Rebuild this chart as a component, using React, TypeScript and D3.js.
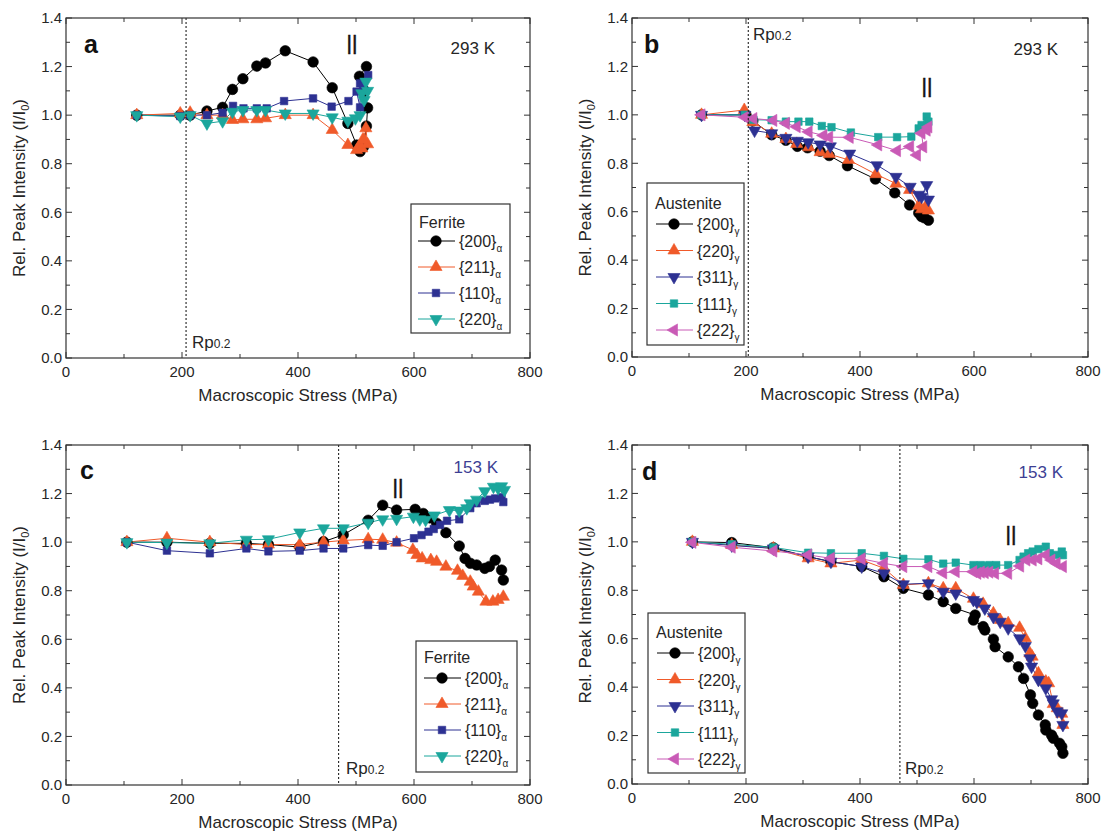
import React from "react";
import * as d3 from "d3";

// ---------- axes ----------
const X_TICKS = [0, 200, 400, 600, 800];
const X_MINOR = [100, 300, 500, 700];
const Y_TICKS = [0, 0.2, 0.4, 0.6, 0.8, 1.0, 1.2, 1.4];
const Y_MINOR = [0.1, 0.3, 0.5, 0.7, 0.9, 1.1, 1.3];

const FERRITE_LABELS = ["{200}", "{211}", "{110}", "{220}"];
const AUSTENITE_LABELS = ["{200}", "{220}", "{311}", "{111}", "{222}"];

// ---------- panel a : ferrite 293 K ----------
const A200_X = [122, 197, 214, 243, 270, 287, 305, 329, 344, 378, 426, 459, 486, 501, 507, 513, 518, 520, 515, 506, 518];
const A200_Y = [1.0, 1.0, 1.0, 1.017, 1.032, 1.106, 1.15, 1.202, 1.215, 1.265, 1.219, 1.113, 0.966, 0.877, 0.85, 0.87, 0.955, 1.03, 1.1, 1.16, 1.2];
const A211_X = [122, 197, 214, 243, 270, 287, 305, 329, 344, 378, 426, 459, 486, 501, 505, 510, 514, 517, 520, 512];
const A211_Y = [1.0, 1.007, 1.01, 1.0, 1.0, 0.98, 0.983, 0.983, 0.987, 1.0, 1.0, 0.939, 0.877, 0.856, 0.87, 0.863, 0.898, 0.946, 0.88, 0.9];
const A110_X = [122, 197, 214, 243, 270, 288, 306, 329, 346, 376, 426, 458, 487, 501, 507, 507, 512, 521];
const A110_Y = [1.0, 0.996, 1.0, 1.0, 1.01, 1.038, 1.028, 1.028, 1.028, 1.058, 1.069, 1.035, 1.058, 1.097, 1.032, 1.131, 1.12, 1.165];
const A220_X = [122, 197, 214, 243, 270, 287, 305, 329, 344, 378, 426, 459, 486, 499, 507, 510, 514, 517, 520];
const A220_Y = [1.0, 0.994, 1.0, 0.966, 0.975, 1.014, 1.021, 1.021, 1.021, 1.007, 1.007, 0.991, 0.977, 0.987, 1.0, 1.09, 1.062, 1.138, 1.1];

// ---------- panel b : austenite 293 K ----------
const B200_X = [122, 200, 212, 245, 270, 290, 308, 330, 346, 378, 427, 461, 487, 503, 508, 513, 520];
const B200_Y = [1.0, 1.0, 0.975, 0.918, 0.895, 0.87, 0.864, 0.85, 0.832, 0.79, 0.735, 0.678, 0.628, 0.595, 0.58, 0.575, 0.565];
const B220_X = [122, 197, 212, 245, 270, 289, 310, 330, 346, 380, 428, 463, 487, 503, 508, 515, 520];
const B220_Y = [1.0, 1.02, 0.97, 0.922, 0.9, 0.88, 0.866, 0.846, 0.838, 0.814, 0.755, 0.716, 0.69, 0.625, 0.61, 0.62, 0.605];
const B311_X = [122, 198, 215, 245, 270, 290, 309, 330, 348, 382, 430, 463, 488, 503, 508, 517, 520];
const B311_Y = [1.0, 1.0, 0.935, 0.924, 0.905, 0.893, 0.887, 0.878, 0.87, 0.84, 0.792, 0.744, 0.703, 0.67, 0.662, 0.71, 0.65];
const B111_X = [122, 198, 213, 245, 270, 292, 311, 333, 350, 384, 432, 465, 490, 503, 508, 517, 520];
const B111_Y = [1.0, 1.0, 0.98, 0.978, 0.972, 0.972, 0.972, 0.954, 0.949, 0.927, 0.908, 0.908, 0.91, 0.944, 0.958, 0.993, 0.972];
const B222_X = [122, 198, 213, 248, 270, 289, 310, 336, 346, 382, 432, 465, 488, 500, 511, 508, 517, 520];
const B222_Y = [1.0, 0.99, 0.985, 0.977, 0.965, 0.951, 0.93, 0.915, 0.908, 0.907, 0.876, 0.852, 0.869, 0.834, 0.868, 0.924, 0.937, 0.95];

// ---------- panel c : ferrite 153 K ----------
const C200_X = [105, 174, 248, 311, 349, 403, 444, 478, 521, 546, 570, 602, 616, 627, 639, 655, 678, 688, 697, 708, 722, 730, 740, 751, 754];
const C200_Y = [1.0, 1.0, 0.995, 0.995, 0.99, 0.98, 1.002, 1.03, 1.09, 1.152, 1.132, 1.135, 1.118, 1.1, 1.078, 1.039, 0.984, 0.933, 0.913, 0.906, 0.892, 0.9, 0.926, 0.885, 0.844];
const C211_X = [105, 174, 248, 311, 349, 403, 444, 478, 521, 546, 570, 598, 605, 614, 629, 639, 655, 675, 684, 697, 702, 711, 724, 736, 745, 754];
const C211_Y = [1.0, 1.016, 1.0, 0.99, 0.99, 0.99, 1.0, 1.007, 1.012, 1.01, 0.998, 0.968, 0.947, 0.933, 0.926, 0.919, 0.899, 0.882, 0.861, 0.837, 0.817, 0.796, 0.755, 0.755, 0.762, 0.775];
const C110_X = [105, 174, 248, 311, 349, 403, 444, 478, 521, 546, 570, 600, 613, 625, 634, 645, 657, 678, 697, 708, 722, 731, 740, 751, 754];
const C110_Y = [1.0, 0.965, 0.954, 0.974, 0.962, 0.965, 0.974, 0.974, 0.988, 0.985, 1.0, 1.016, 1.029, 1.043, 1.054, 1.071, 1.088, 1.094, 1.14, 1.16, 1.17, 1.175, 1.18, 1.185, 1.165];
const C220_X = [105, 174, 248, 311, 349, 403, 444, 478, 521, 546, 570, 599, 610, 620, 635, 661, 678, 691, 697, 708, 722, 737, 745, 751, 756];
const C220_Y = [1.0, 0.998, 0.995, 1.01, 1.012, 1.04, 1.057, 1.057, 1.08, 1.094, 1.096, 1.105, 1.094, 1.092, 1.11, 1.132, 1.13, 1.14, 1.16, 1.175, 1.21, 1.228, 1.222, 1.23, 1.215];

// ---------- panel d : austenite 153 K ----------
const D200_X = [106, 175, 248, 309, 349, 403, 442, 476, 520, 546, 568, 602, 599, 616, 619, 634, 637, 660, 678, 687, 699, 703, 713, 725, 726, 736, 739, 750, 754, 756];
const D200_Y = [1.0, 0.997, 0.976, 0.939, 0.918, 0.898, 0.856, 0.808, 0.781, 0.753, 0.725, 0.698, 0.677, 0.65, 0.636, 0.598, 0.567, 0.525, 0.484, 0.436, 0.368, 0.333, 0.285, 0.244, 0.223, 0.202, 0.189, 0.168, 0.154, 0.127];
const D220_X = [106, 175, 248, 309, 349, 403, 442, 476, 520, 546, 568, 599, 616, 634, 646, 660, 680, 690, 698, 702, 713, 726, 731, 739, 746, 754, 756];
const D220_Y = [1.0, 0.987, 0.973, 0.932, 0.911, 0.925, 0.891, 0.822, 0.829, 0.808, 0.808, 0.765, 0.744, 0.705, 0.677, 0.664, 0.645, 0.602, 0.54, 0.526, 0.457, 0.423, 0.416, 0.33, 0.313, 0.29, 0.244];
const D311_X = [106, 175, 248, 309, 349, 403, 442, 476, 520, 546, 568, 599, 605, 619, 634, 646, 660, 680, 690, 698, 701, 713, 726, 736, 739, 746, 754, 756];
const D311_Y = [1.0, 0.985, 0.973, 0.939, 0.918, 0.898, 0.87, 0.825, 0.829, 0.794, 0.787, 0.76, 0.752, 0.725, 0.69, 0.67, 0.643, 0.602, 0.57, 0.519, 0.485, 0.43, 0.395, 0.35, 0.333, 0.3, 0.292, 0.244];
const D111_X = [106, 175, 248, 309, 349, 403, 442, 476, 520, 546, 568, 599, 606, 612, 619, 627, 639, 660, 680, 687, 695, 703, 713, 726, 733, 745, 754, 756];
const D111_Y = [1.0, 0.99, 0.977, 0.955, 0.953, 0.953, 0.942, 0.93, 0.928, 0.91, 0.914, 0.904, 0.898, 0.904, 0.9, 0.904, 0.904, 0.904, 0.925, 0.939, 0.953, 0.96, 0.97, 0.98, 0.953, 0.946, 0.96, 0.945];
const D222_X = [106, 175, 248, 309, 349, 403, 442, 476, 520, 546, 568, 599, 606, 612, 619, 627, 637, 660, 681, 692, 703, 713, 726, 736, 745, 756];
const D222_Y = [0.998, 0.978, 0.962, 0.946, 0.932, 0.93, 0.911, 0.898, 0.898, 0.872, 0.877, 0.877, 0.87, 0.875, 0.873, 0.875, 0.87, 0.87, 0.9, 0.925, 0.925, 0.93, 0.946, 0.925, 0.911, 0.898];

// ---------- styles ----------
const BLACK = "#000000";
const ORANGE = "#F05A2A";
const NAVY = "#2D3192";
const TEAL = "#1BA69C";
const PINK = "#C95AB6";
const TXT = "#262626";
const FRAME = "#333333";
const FONT = "'Liberation Sans', Arial, Helvetica, sans-serif";

type Shape = "circle" | "up" | "square" | "down" | "left";
interface Series { x: number[]; y: number[]; color: string; shape: Shape; }

const symbolPath = (shape: Shape): string => {
  if (shape === "circle") return d3.symbol(d3.symbolCircle, 88)() as string;
  if (shape === "square") return d3.symbol(d3.symbolSquare, 56)() as string;
  return d3.symbol(d3.symbolTriangle, 64)() as string;
};
const symbolRot = (shape: Shape): number =>
  shape === "down" ? 180 : shape === "left" ? -90 : 0;

const Marker = ({ cx, cy, shape, color }: { cx: number; cy: number; shape: Shape; color: string }) => (
  <path
    d={symbolPath(shape)}
    transform={`translate(${cx},${cy}) rotate(${symbolRot(shape)})`}
    fill={color}
    stroke={color}
    strokeWidth={0.6}
  />
);

interface LegendCfg {
  x0: number; y0: number; w: number; h: number;
  title: string; labels: string[]; sub: string;
  titleDy: number; rowStart: number; rowStep: number; lineX0: number;
}

interface PanelProps {
  left: number; top: number; right: number; bottom: number;
  series: Series[];
  legend: LegendCfg;
  letter: string; letterPos: [number, number];
  temp: string; tempColor: string; tempPos: [number, number];
  rp: number; rpLabelPos: [number, number];
  breakPos: [number, number];
}

const Panel = (p: PanelProps) => {
  const x = d3.scaleLinear().domain([0, 800]).range([p.left, p.right]);
  const y = d3.scaleLinear().domain([0, 1.4]).range([p.bottom, p.top]);
  const line = d3.line<[number, number]>().x((d) => x(d[0])).y((d) => y(d[1]));
  const lg = p.legend;
  const tickMaj = 6;
  const tickMin = 4;
  return (
    <g fontFamily={FONT} fill={TXT}>
      {p.series.map((s, i) => {
        const pts: [number, number][] = s.x.map((v, k) => [v, s.y[k]]);
        return <path key={"s" + i} d={line(pts) as string} fill="none" stroke={s.color} strokeWidth={1} />;
      })}
      {p.series.map((s, i) => (
        <g key={"m" + i}>
          {s.x.map((v, k) => (
            <Marker key={k} cx={x(v)} cy={y(s.y[k])} shape={s.shape} color={s.color} />
          ))}
        </g>
      ))}
      {/* Rp0.2 line */}
      <line x1={x(p.rp)} x2={x(p.rp)} y1={p.top} y2={p.bottom} stroke="#222" strokeWidth={1.1} strokeDasharray="2,2" />
      <text x={p.rpLabelPos[0]} y={p.rpLabelPos[1]} fontSize={17} fill={TXT}>
        Rp<tspan fontSize={12}>0.2</tspan>
      </text>
      {/* frame */}
      <rect x={p.left} y={p.top} width={p.right - p.left} height={p.bottom - p.top} fill="none" stroke={FRAME} strokeWidth={1.2} />
      {X_TICKS.map((t) => (
        <g key={"xt" + t}>
          <line x1={x(t)} x2={x(t)} y1={p.bottom} y2={p.bottom - tickMaj} stroke={FRAME} />
          <line x1={x(t)} x2={x(t)} y1={p.top} y2={p.top + tickMaj} stroke={FRAME} />
          <text x={x(t)} y={p.bottom + 19} fontSize={15} textAnchor="middle" fill={TXT}>{t}</text>
        </g>
      ))}
      {X_MINOR.map((t) => (
        <g key={"xm" + t}>
          <line x1={x(t)} x2={x(t)} y1={p.bottom} y2={p.bottom - tickMin} stroke={FRAME} />
          <line x1={x(t)} x2={x(t)} y1={p.top} y2={p.top + tickMin} stroke={FRAME} />
        </g>
      ))}
      {Y_TICKS.map((t) => (
        <g key={"yt" + t}>
          <line x1={p.left} x2={p.left + tickMaj} y1={y(t)} y2={y(t)} stroke={FRAME} />
          <line x1={p.right} x2={p.right - tickMaj} y1={y(t)} y2={y(t)} stroke={FRAME} />
          <text x={p.left - 4} y={y(t)} dy="0.35em" fontSize={15} textAnchor="end" fill={TXT}>{d3.format(".1f")(t)}</text>
        </g>
      ))}
      {Y_MINOR.map((t) => (
        <g key={"ym" + t}>
          <line x1={p.left} x2={p.left + tickMin} y1={y(t)} y2={y(t)} stroke={FRAME} />
          <line x1={p.right} x2={p.right - tickMin} y1={y(t)} y2={y(t)} stroke={FRAME} />
        </g>
      ))}
      <text x={(p.left + p.right) / 2} y={p.bottom + 43} fontSize={17} textAnchor="middle" fill={TXT}>
        Macroscopic Stress (MPa)
      </text>
      <text
        transform={`translate(${p.left - 47},${(p.top + p.bottom) / 2}) rotate(-90)`}
        fontSize={17}
        textAnchor="middle"
        dy="0.35em"
        fill={TXT}
      >
        Rel. Peak Intensity (I/I<tspan fontSize={11} dy={4}>0</tspan><tspan dy={-4}>)</tspan>
      </text>
      <text x={p.letterPos[0]} y={p.letterPos[1]} fontSize={25} fontWeight="bold" fill="#111">{p.letter}</text>
      <text x={p.tempPos[0]} y={p.tempPos[1]} fontSize={17} textAnchor="end" fill={p.tempColor}>{p.temp}</text>
      <text x={p.breakPos[0]} y={p.breakPos[1]} fontSize={21} textAnchor="middle" fill="#111" stroke="#111" strokeWidth={0.5}>||</text>
      <g>
        <rect x={lg.x0} y={lg.y0} width={lg.w} height={lg.h} fill="#fff" stroke={FRAME} strokeWidth={1.2} />
        <text x={lg.x0 + 8} y={lg.y0 + lg.titleDy} fontSize={16} fill={TXT}>{lg.title}</text>
        {lg.labels.map((lab, i) => {
          const s = p.series[i];
          const ry = lg.y0 + lg.rowStart + i * lg.rowStep;
          const lx0 = lg.x0 + lg.lineX0;
          return (
            <g key={"lg" + i}>
              <line x1={lx0} x2={lx0 + 37} y1={ry} y2={ry} stroke={s.color} strokeWidth={1} />
              <Marker cx={lx0 + 18} cy={ry} shape={s.shape} color={s.color} />
              <text x={lx0 + 41} y={ry + 6} fontSize={16} fill={TXT}>
                {lab}
                <tspan fontSize={10} dy={5}>{lg.sub}</tspan>
              </text>
            </g>
          );
        })}
      </g>
    </g>
  );
};

export default function App() {
  const seriesA: Series[] = [
    { x: A200_X, y: A200_Y, color: BLACK, shape: "circle" },
    { x: A211_X, y: A211_Y, color: ORANGE, shape: "up" },
    { x: A110_X, y: A110_Y, color: NAVY, shape: "square" },
    { x: A220_X, y: A220_Y, color: TEAL, shape: "down" },
  ];
  const seriesB: Series[] = [
    { x: B200_X, y: B200_Y, color: BLACK, shape: "circle" },
    { x: B220_X, y: B220_Y, color: ORANGE, shape: "up" },
    { x: B311_X, y: B311_Y, color: NAVY, shape: "down" },
    { x: B111_X, y: B111_Y, color: TEAL, shape: "square" },
    { x: B222_X, y: B222_Y, color: PINK, shape: "left" },
  ];
  const seriesC: Series[] = [
    { x: C200_X, y: C200_Y, color: BLACK, shape: "circle" },
    { x: C211_X, y: C211_Y, color: ORANGE, shape: "up" },
    { x: C110_X, y: C110_Y, color: NAVY, shape: "square" },
    { x: C220_X, y: C220_Y, color: TEAL, shape: "down" },
  ];
  const seriesD: Series[] = [
    { x: D200_X, y: D200_Y, color: BLACK, shape: "circle" },
    { x: D220_X, y: D220_Y, color: ORANGE, shape: "up" },
    { x: D311_X, y: D311_Y, color: NAVY, shape: "down" },
    { x: D111_X, y: D111_Y, color: TEAL, shape: "square" },
    { x: D222_X, y: D222_Y, color: PINK, shape: "left" },
  ];
  return (
    <svg width={1115} height={836} style={{ position: "absolute", left: 0, top: 0, background: "#fff" }}>
      <rect width={1115} height={836} fill="#fff" />
      <Panel
        left={66} top={18} right={530} bottom={358}
        series={seriesA}
        legend={{ x0: 411, y0: 204, w: 99, h: 129, title: "Ferrite", labels: FERRITE_LABELS, sub: "α", titleDy: 24, rowStart: 37, rowStep: 26, lineX0: 7 }}
        letter="a" letterPos={[84, 53]}
        temp="293 K" tempColor={TXT} tempPos={[495, 54]}
        rp={207} rpLabelPos={[192, 348]}
        breakPos={[352, 50]}
      />
      <Panel
        left={632} top={18} right={1088} bottom={357}
        series={seriesB}
        legend={{ x0: 647, y0: 183, w: 97, h: 162, title: "Austenite", labels: AUSTENITE_LABELS, sub: "γ", titleDy: 26, rowStart: 41, rowStep: 26.5, lineX0: 9 }}
        letter="b" letterPos={[644, 53]}
        temp="293 K" tempColor={TXT} tempPos={[1058, 55]}
        rp={204} rpLabelPos={[753, 40]}
        breakPos={[927, 93]}
      />
      <Panel
        left={66} top={445} right={530} bottom={785}
        series={seriesC}
        legend={{ x0: 416, y0: 641, w: 101, h: 131, title: "Ferrite", labels: FERRITE_LABELS, sub: "α", titleDy: 22, rowStart: 37, rowStep: 26, lineX0: 8 }}
        letter="c" letterPos={[80, 479]}
        temp="153 K" tempColor="#3D3F94" tempPos={[498, 473]}
        rp={470} rpLabelPos={[346, 774]}
        breakPos={[398, 494]}
      />
      <Panel
        left={632} top={445} right={1088} bottom={784}
        series={seriesD}
        legend={{ x0: 648, y0: 613, w: 97, h: 160, title: "Austenite", labels: AUSTENITE_LABELS, sub: "γ", titleDy: 25, rowStart: 40, rowStep: 26.5, lineX0: 9 }}
        letter="d" letterPos={[642, 480]}
        temp="153 K" tempColor="#3D3F94" tempPos={[1063, 478]}
        rp={470} rpLabelPos={[905, 774]}
        breakPos={[1011, 541]}
      />
    </svg>
  );
}
